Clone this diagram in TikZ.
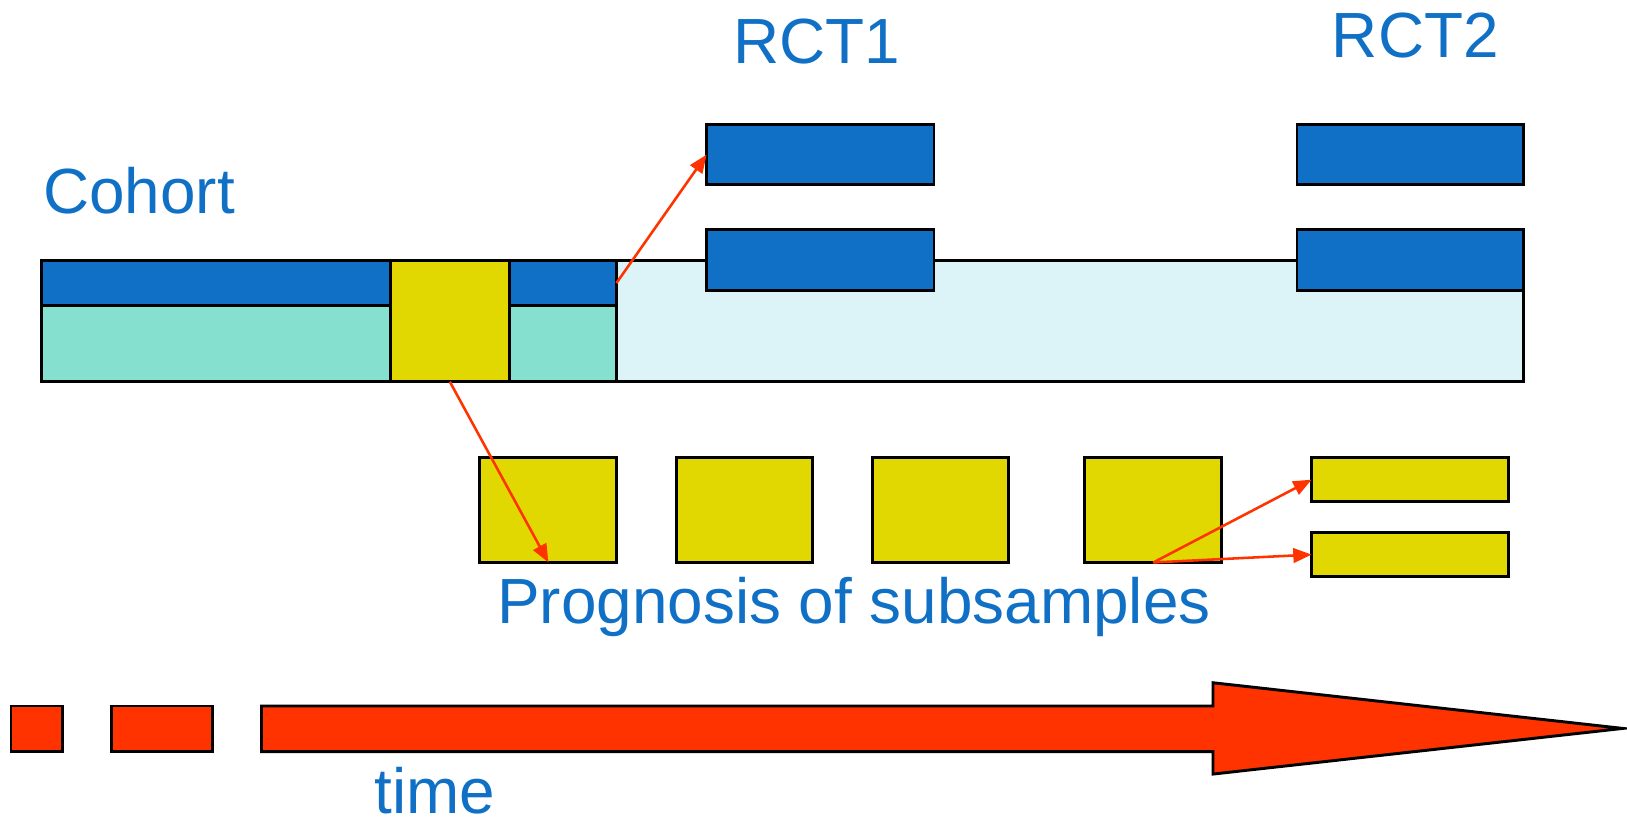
\documentclass[tikz,border=0pt]{standalone}
\usepackage{fontspec}
\setmainfont{Liberation Sans}
\usepackage{xcolor}
\usepackage{tikz}
\usetikzlibrary{arrows.meta,positioning}

\definecolor{barblue}{HTML}{1070C6}
\definecolor{barteal}{HTML}{86E0D0}
\definecolor{barcyan}{HTML}{DCF4F7}
\definecolor{subyellow}{HTML}{E0D800}
\definecolor{timered}{HTML}{FF3300}

\begin{document}
\begin{tikzpicture}[
  x=0.01cm, y=-0.01cm,
  block/.style={draw=black, line width=0.8pt, inner sep=0pt, outer sep=0pt,
    anchor=north west},
  blueblock/.style={block, fill=barblue},
  tealblock/.style={block, fill=barteal},
  yellowblock/.style={block, fill=subyellow},
  redblock/.style={block, fill=timered},
  label/.style={text=barblue, inner sep=0pt, font=\fontsize{17.5}{21}\selectfont},
  arrow/.style={-{Triangle[length=5pt,width=4pt]}, draw=timered, line width=0.7pt}
]
\useasboundingbox (0,0) rectangle (1568,794);

% cohort bar
\node (rest) [block, fill=barcyan, minimum width=8.74cm, minimum height=1.168cm] at (594,251) {};
\node (blue1) [blueblock, minimum width=3.36cm, minimum height=0.436cm] at (40,251) {};
\node (teal1) [tealblock, minimum width=3.36cm, minimum height=0.732cm] at (40,294.6) {};
\node (ycoh) [yellowblock, minimum width=1.15cm, minimum height=1.168cm] at (376,251) {};
\node (blue2) [blueblock, minimum width=1.03cm, minimum height=0.436cm] at (491,251) {};
\node (teal2) [tealblock, minimum width=1.03cm, minimum height=0.732cm] at (491,294.6) {};

% trials
\node (rct1a) [blueblock, minimum width=2.19cm, minimum height=0.58cm] at (681,120) {};
\node (rct1b) [blueblock, minimum width=2.19cm, minimum height=0.58cm] at (681,221.5) {};
\node (rct2a) [blueblock, minimum width=2.18cm, minimum height=0.58cm] at (1250,120) {};
\node (rct2b) [blueblock, minimum width=2.18cm, minimum height=0.58cm] at (1250,221.5) {};

% subsamples
\node (sq1) [yellowblock, minimum width=1.32cm, minimum height=1.01cm] at (462.5,441) {};
\node (sq2) [yellowblock, minimum width=1.31cm, minimum height=1.01cm] at (652,441) {};
\node (sq3) [yellowblock, minimum width=1.31cm, minimum height=1.01cm] at (841,441) {};
\node (sq4) [yellowblock, minimum width=1.32cm, minimum height=1.01cm] at (1045.5,441) {};
\node (sub1) [yellowblock, minimum width=1.9cm, minimum height=0.425cm] at (1264,441) {};
\node (sub2) [yellowblock, minimum width=1.9cm, minimum height=0.43cm] at (1264,513) {};

% labels
\node (lrct1) [label, anchor=base] at (787.5,61) {RCT1};
\node (lrct2) [label, anchor=base] at (1364,55.3) {RCT2};
\node (lcoh) [label, anchor=base west] at (41,206) {Cohort};
\node (lprog) [label, anchor=base] at (823,600.6) {Prognosis of subsamples};
\node (ltime) [label, anchor=base] at (419,784) {time};

% time axis
\node (t1) [redblock, minimum width=0.494cm, minimum height=0.44cm] at (10.6,680.4) {};
\node (t2) [redblock, minimum width=0.967cm, minimum height=0.44cm] at (107.6,680.4) {};
\draw[line width=0.8pt, fill=timered] (252,680.4) -- (1169,680.4) -- (1169,658)
  -- (1564,702) -- (1169,746) -- (1169,724.4) -- (252,724.4) -- cycle;

\draw[arrow] (blue2.east) -- (rct1a.west);
\draw[arrow] (ycoh.south) -- (sq1.south);
\draw[arrow] (sq4.south) -- (sub1.west);
\draw[arrow] (sq4.south) -- (sub2.west);
\end{tikzpicture}
\end{document}
